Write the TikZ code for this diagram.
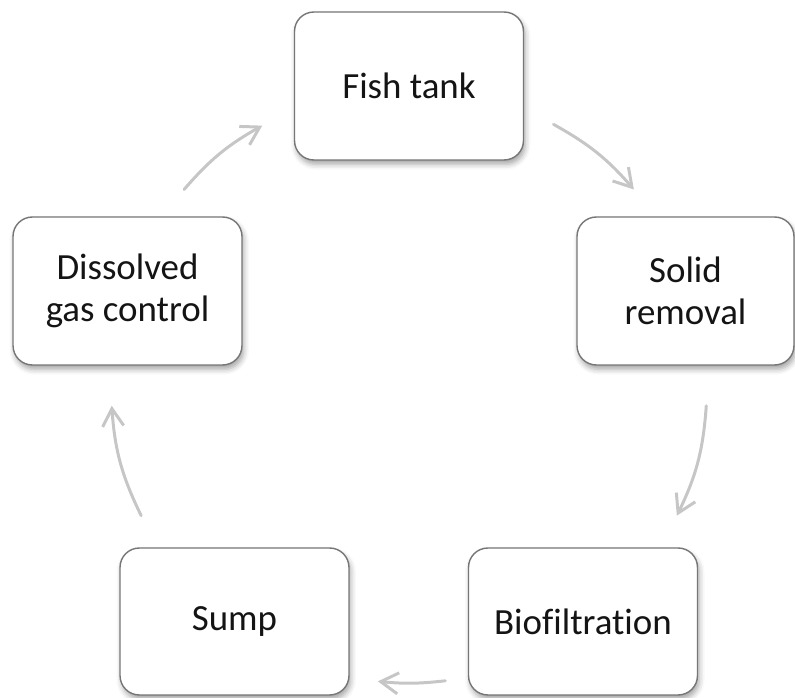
\documentclass[tikz,border=0pt]{standalone}
\usepackage{fontspec}
\setmainfont{Carlito}[Ligatures=NoCommon]
\usetikzlibrary{arrows.meta,calc,shadows.blur}
\definecolor{Edge}{HTML}{767676}
\definecolor{Flow}{HTML}{C6C6C6}
\definecolor{Ink}{HTML}{141414}
\tikzset{
  flowarrow/.style={-{Straight Barb[length=10pt,width=12pt]},line width=1.7pt,draw=Flow,
    line cap=round,line join=round},
  nodebase/.style={rounded corners=11pt,minimum width=4.58cm,minimum height=2.96cm,align=center,
    draw=Edge,line width=0.8pt,fill=white,text=Ink,font=\fontsize{21}{24}\selectfont,
    blur shadow={shadow xshift=1pt,shadow yshift=-2.5pt,shadow blur radius=3pt,shadow opacity=35}},
}

\begin{document}
\begin{tikzpicture}[x=0.02cm,y=0.02cm]
        \useasboundingbox (0,0) rectangle (795,697);
        \coordinate (hub) at (409,312);
        \node[nodebase] (fish) at (409,611) {Fish tank};
        \node[nodebase,minimum width=4.34cm] (solid) at (685.5,406) {Solid\\removal};
        \node[nodebase,minimum height=2.94cm] (bio) at (583,75.5) {Biofiltration};
        \node[nodebase,minimum height=2.94cm] (sump) at (234.5,75.5) {Sump};
        \node[nodebase] (gas) at (127.5,406) {Dissolved\\gas control};
        % arrow ends lie on a circle round the hub
        \foreach \n/\a/\b in {1/61/41,2/-4/-26,3/-83/-96,4/206/184,5/139/119.5}{
          \coordinate (s\n) at ($(hub)+(\a:298)$);
          \coordinate (e\n) at ($(hub)+(\b:298)$);
        }
        \draw[flowarrow] (s1) to[bend left=10] (e1);
        \draw[flowarrow] (s2) to[bend left=11] (e2);
        \draw[flowarrow] (s3) to[bend left=6] (e3);
        \draw[flowarrow] (s4) to[bend left=11] (e4);
        \draw[flowarrow] (s5) to[bend left=10] (e5);
      \end{tikzpicture}
\end{document}
